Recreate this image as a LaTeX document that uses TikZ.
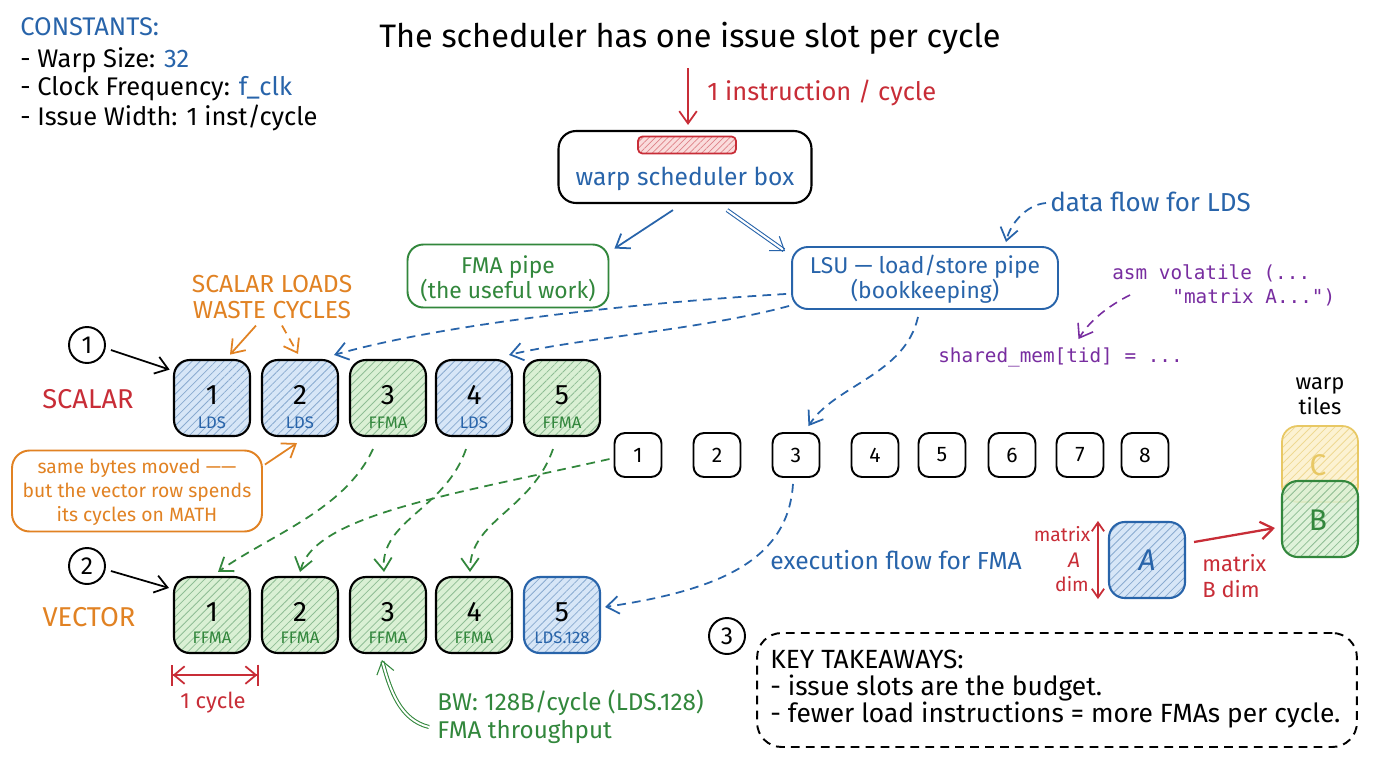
\documentclass[tikz,border=0pt]{standalone}
\usepackage{fontspec}
\setmainfont{Fira Sans}
\newfontfamily\codefont{DejaVu Sans Mono}
\usetikzlibrary{arrows.meta,patterns.meta,calc}
\definecolor{myblue}{RGB}{40,100,170}
\definecolor{myred}{RGB}{200,45,55}
\definecolor{mygreen}{RGB}{50,135,60}
\definecolor{myorange}{RGB}{225,130,35}
\definecolor{mypurple}{RGB}{120,45,160}
\definecolor{myyellow}{RGB}{232,200,100}
\definecolor{bluefill}{RGB}{215,230,247}
\definecolor{greenfill}{RGB}{218,240,212}
\definecolor{yellowfill}{RGB}{252,242,210}
\definecolor{redfill}{RGB}{250,220,220}
\tikzset{
  txt/.style={inner sep=0pt, font=\fontsize{13}{15}\selectfont},
  slotbox/.style={draw=black, line width=1.2pt, rounded corners=9pt, minimum width=1.52cm, minimum height=1.52cm, inner sep=0pt},
  tbox/.style={draw=black, line width=1.1pt, rounded corners=6pt, minimum width=0.94cm, minimum height=0.88cm, inner sep=0pt, font=\fontsize{12}{14}\selectfont},
  hatchblue/.style={preaction={fill=bluefill}, pattern={Lines[angle=45,distance=3.2pt,line width=0.45pt]}, pattern color=myblue!55},
  hatchgreen/.style={preaction={fill=greenfill}, pattern={Lines[angle=45,distance=3.2pt,line width=0.45pt]}, pattern color=mygreen!55},
  hatchyellow/.style={preaction={fill=yellowfill}, pattern={Lines[angle=45,distance=3.2pt,line width=0.45pt]}, pattern color=myyellow!70},
  hatchred/.style={preaction={fill=redfill}, pattern={Lines[angle=45,distance=2.5pt,line width=0.4pt]}, pattern color=myred!60},
  numtxt/.style={inner sep=0pt, font=\fontsize{16}{18}\selectfont},
  lbltxt/.style={inner sep=0pt, font=\fontsize{9.5}{11}\selectfont},
  arr/.style={-{Straight Barb[length=7pt,width=10pt]}, line width=1pt},
  dsh/.style={dash pattern=on 5pt off 3.5pt},
  circ/.style={draw=black, circle, line width=1.1pt, minimum size=0.72cm, inner sep=0pt, font=\fontsize{14}{16}\selectfont},
}
\begin{document}
\begin{tikzpicture}[x=0.02cm,y=-0.02cm]
\useasboundingbox[fill=white] (0,0) rectangle (1376,768);

% constants
\node[txt, anchor=west, text=myblue, font=\fontsize{14.5}{16}\selectfont] (cst0) at (20,27) {CONSTANTS:};
\node[txt, anchor=west, font=\fontsize{14.5}{16}\selectfont] (cst1) at (20,60) {- Warp Size: \textcolor{myblue}{32}};
\node[txt, anchor=west, font=\fontsize{14.5}{16}\selectfont] (cst2) at (20,89) {- Clock Frequency: \textcolor{myblue}{f\_clk}};
\node[txt, anchor=west, font=\fontsize{14.5}{16}\selectfont] (cst3) at (20,118) {- Issue Width: 1 inst/cycle};

% title
\node[inner sep=0pt, font=\fontsize{18.5}{21}\selectfont] (title) at (690,38) {The scheduler has one issue slot per cycle};

% scheduler
\node[draw=black, line width=1.2pt, rounded corners=10pt, minimum width=5.06cm, minimum height=1.44cm] (sched) at (685,167) {};
\node[draw=myred, line width=1pt, rounded corners=2.5pt, minimum width=1.96cm, minimum height=0.34cm, inner sep=0pt, hatchred] (bar) at (687,145) {};
\node[txt, text=myblue, font=\fontsize{14}{16}\selectfont] (schedtxt) at (685,179) {warp scheduler box};
\coordinate (instop) at (688,68);
\draw[arr, myred] (instop) -- ($(sched.north)+(3,-5)$);
\node[txt, text=myred, anchor=west, font=\fontsize{14.5}{16}\selectfont] (instlbl) at (707,93) {1 instruction / cycle};

% pipes
\node[draw=mygreen, line width=1.1pt, rounded corners=9pt, minimum width=4.02cm, minimum height=1.26cm, inner sep=0pt] (fma) at (508,276) {};
\node[txt, text=mygreen, align=center, font=\fontsize{13}{14.2}\selectfont] (fmatxt) at (508,279) {FMA pipe\\(the useful work)};
\node[draw=myblue, line width=1.1pt, rounded corners=9pt, minimum width=5.32cm, minimum height=1.24cm, inner sep=0pt] (lsu) at (925,278) {};
\node[txt, text=myblue, align=center, font=\fontsize{13}{14.2}\selectfont] (lsutxt) at (925,279) {LSU — load/store pipe\\(bookkeeping)};
\draw[arr, myblue] ($(sched.south)+(-12,6)$) -- ($(fma.north east)+(5,5)$);
\draw[arr, myblue, double distance=1.2pt, line width=0.6pt] ($(sched.south)+(42,6)$) -- ($(lsu.north west)+(-6,5)$);

% data flow label
\node[txt, text=myblue, anchor=west, font=\fontsize{14.8}{16}\selectfont] (dataflow) at (1050,202) {data flow for LDS};
\draw[arr, myblue, dsh] ($(dataflow.west)+(-4,1)$) .. controls (1025,205) and (1010,225) .. ($(lsu.north)+(81,-4)$);

% code
\node[inner sep=0pt, anchor=west, text=mypurple, font=\codefont\fontsize{11}{13}\selectfont] (asm1) at (1112,273) {asm volatile (...};
\node[inner sep=0pt, anchor=west, text=mypurple, font=\codefont\fontsize{11}{13}\selectfont] (asm2) at (1172,297) {"matrix A...")};
\node[inner sep=0pt, anchor=west, text=mypurple, font=\codefont\fontsize{11}{13}\selectfont] (shared) at (938,357) {shared\_mem[tid] = ...};
\draw[arr, mypurple, dsh, line width=0.9pt] ($(asm2.west)+(-42,-2)$) .. controls (1110,305) and (1090,320) .. ($(shared.north)+(18,-8)$);

% scalar loads label
\node[txt, text=myorange, align=center, font=\fontsize{14}{15.3}\selectfont] (waste) at (272,297) {SCALAR LOADS\\WASTE CYCLES};

% scalar row
\node[circ] (c1) at (87,345) {1};
\node[txt, text=myred, font=\fontsize{15.5}{17}\selectfont] (scalarlbl) at (88,399) {SCALAR};
\foreach \i/\x/\k/\t in {1/212/blue/LDS, 2/300/blue/LDS, 3/388/green/FFMA, 4/474/blue/LDS, 5/562/green/FFMA}{
  \node[slotbox, hatch\k] (s\i) at (\x,398) {};
  \node[numtxt] at (\x,395) {\i};
  \node[lbltxt, text=my\k] at (\x,423) {\t};
}
\draw[arr, black] ($(c1.east)+(5,5)$) -- ($(s1.north west)+(-4,10)$);
\draw[arr, myorange] ($(waste.south)+(-16,6)$) -- ($(s1.north)+(18,-5)$);
\draw[arr, myorange, dsh] ($(waste.south)+(10,6)$) -- ($(s2.north)+(-2,-5)$);

% timeline slots
\foreach \i/\x in {1/638, 2/717, 3/796, 4/875, 5/942, 6/1012, 7/1080, 8/1145}{
  \node[tbox] (t\i) at (\x,455) {\i};
}

% LSU dashed flows
\draw[arr, myblue, dsh] ($(lsu.south west)+(-5,-16)$) .. controls (650,302) and (450,322) .. ($(s2.north east)+(-5,-4)$);
\draw[arr, myblue, dsh] ($(lsu.south west)+(-2,-4)$) .. controls (700,330) and (580,338) .. ($(s4.north east)+(-4,-4)$);
\draw[arr, myblue, dsh] ($(lsu.south)+(-7,7)$) .. controls (905,375) and (835,385) .. ($(t3.north east)+(-12,-6)$);

% orange callout
\node[draw=myorange, line width=1.1pt, rounded corners=10pt, minimum width=5.0cm, minimum height=1.62cm, inner sep=0pt] (callout) at (137,491) {};
\node[txt, text=myorange, align=center, font=\fontsize{11}{13.6}\selectfont] (callouttxt) at (137,492) {same bytes moved ——\\but the vector row spends\\its cycles on MATH};
\draw[arr, myorange] ($(callout.north east)+(2,15)$) -- ($(s2.south)+(-3,6)$);

% vector row
\node[circ] (c2) at (87,566) {2};
\node[txt, text=myorange, font=\fontsize{15.5}{17}\selectfont] (vectorlbl) at (89,617) {VECTOR};
\foreach \i/\x in {1/212, 2/300, 3/388, 4/474}{
  \node[slotbox, hatchgreen] (v\i) at (\x,615) {};
  \node[numtxt] at (\x,612) {\i};
  \node[lbltxt, text=mygreen] at (\x,638) {FFMA};
}
\node[slotbox, hatchblue, draw=myblue] (v5) at (562,615) {};
\node[numtxt] at (562,612) {5};
\node[lbltxt, text=myblue] at (562,638) {LDS.128};
\draw[arr, black] ($(c2.east)+(5,5)$) -- ($(v1.north west)+(-4,12)$);

% green dashed flows
\draw[arr, mygreen, dsh] ($(s3.south)+(-15,12)$) .. controls (345,510) and (270,535) .. ($(v1.north)+(6,-4)$);
\draw[arr, mygreen, dsh] ($(t1.west)+(-4,4)$) .. controls (450,495) and (315,515) .. ($(v2.north)+(0,-4)$);
\draw[arr, mygreen, dsh] ($(s4.south)+(-8,12)$) .. controls (445,510) and (380,520) .. ($(v3.north)+(-4,-4)$);
\draw[arr, mygreen, dsh] ($(s5.south)+(-9,12)$) .. controls (532,510) and (470,520) .. ($(v4.north)+(-4,-4)$);

% execution flow
\draw[arr, myblue, dsh] ($(t3.south)+(-3,6)$) .. controls (788,560) and (720,590) .. ($(v5.east)+(4,-8)$);
\node[txt, text=myblue, anchor=west, font=\fontsize{14}{16}\selectfont] (execlbl) at (770,560) {execution flow for FMA};

% matrix A / B
\node[slotbox, hatchblue, draw=myblue, minimum width=1.52cm, minimum height=1.52cm] (abox) at (1147,560) {};
\node[numtxt, text=myblue, font=\itshape\fontsize{17}{19}\selectfont] at (1147,560) {A};
\draw[{Straight Barb[length=5pt,width=7pt]}-{Straight Barb[length=5pt,width=7pt]}, myred, line width=1pt] ($(abox.north west)+(-10,0)$) -- ($(abox.south west)+(-10,0)$);
\node[txt, text=myred, align=center, font=\fontsize{11}{13}\selectfont] (matA1) at (1062,534) {matrix};
\node[txt, text=myred, font=\itshape\fontsize{12}{14}\selectfont] (matA2) at (1074,560) {A};
\node[txt, text=myred, font=\fontsize{11}{13}\selectfont] (matA3) at (1072,584) {dim};

\node[txt, font=\fontsize{12.5}{14.2}\selectfont, align=center] (warptiles) at (1320,396) {warp\\tiles};
\node[slotbox, hatchyellow, draw=myyellow, line width=1pt] (cbox) at (1320,464) {};
\node[numtxt, text=myyellow, font=\fontsize{17}{19}\selectfont] at (1318,465) {C};
\node[slotbox, hatchgreen, draw=mygreen, fill opacity=0.85, line width=1.2pt] (bbox) at (1320,519) {};
\node[numtxt, text=mygreen, font=\fontsize{17}{19}\selectfont] at (1318,520) {B};
\draw[arr, myred, line width=1.3pt] ($(abox.east)+(8,-18)$) -- ($(bbox.west)+(-6,9)$);
\node[txt, text=myred, align=left, anchor=west, font=\fontsize{12.5}{14.7}\selectfont] (matB) at (1202,576) {matrix\\B dim};

% 1 cycle
\draw[{Bar[width=12pt]Straight Barb[length=6pt,width=10pt]}-{Straight Barb[length=6pt,width=10pt]Bar[width=12pt]}, myred, line width=1pt] ($(v1.south west)+(-2,21)$) -- ($(v1.south east)+(8,21)$);
\node[txt, text=myred, font=\fontsize{12.5}{14}\selectfont] (cyclelbl) at (213,703) {1 cycle};

% BW
\node[txt, text=mygreen, align=left, anchor=west, font=\fontsize{13.8}{15.8}\selectfont] (bw) at (437,717) {BW: 128B/cycle (LDS.128)\\FMA throughput};
\draw[arr, mygreen, double distance=1.1pt, line width=0.6pt] ($(bw.west)+(-8,10)$) .. controls (400,720) and (390,690) .. ($(v3.south)+(-6,6)$);

% key takeaways
\node[circ] (c3) at (727,636) {3};
\node[draw=black, dsh, line width=1.1pt, rounded corners=14pt, minimum width=12.0cm, minimum height=2.28cm, inner sep=0pt] (key) at (1057,690) {};
\node[txt, anchor=west, align=left, font=\fontsize{15}{15.3}\selectfont] (keytxt) at (770,689) {KEY TAKEAWAYS:\\- issue slots are the budget.\\- fewer load instructions = more FMAs per cycle.};
\end{tikzpicture}
\end{document}
